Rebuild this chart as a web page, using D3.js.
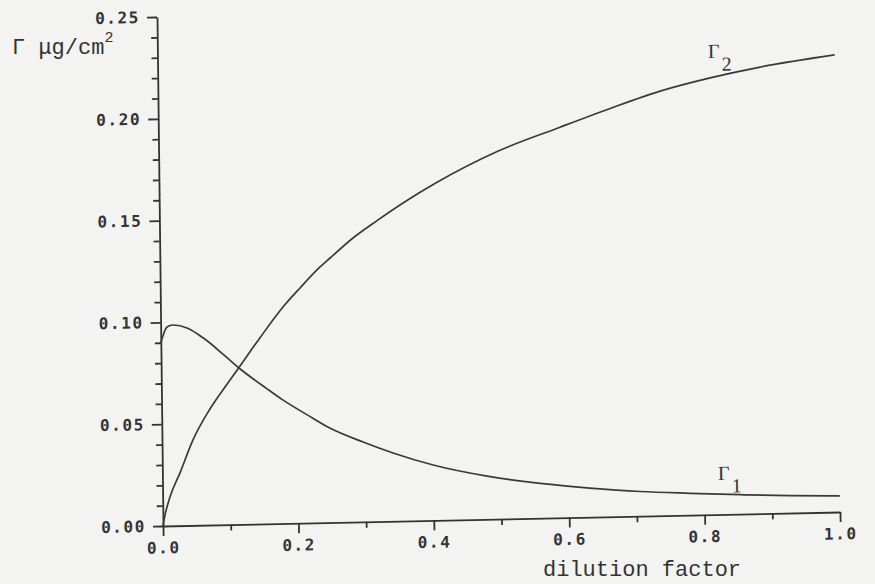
<!DOCTYPE html>
<html lang="en">
<head>
  <meta charset="UTF-8">
  <title>Gamma vs dilution factor</title>
  <script src="https://d3js.org/d3.v7.min.js"></script>
  <style>
    body, html {
      margin: 0;
      padding: 0;
      background: #f3f3f1;
    }
  </style>
</head>
<body>
  <svg id="svg" width="875" height="584"></svg>
  <script>
    // curve readings (dilution factor, surface concentration in ug/cm2)
    const dilution1 = [0, 0.0094, 0.018, 0.039, 0.0624, 0.0916, 0.1136, 0.156, 0.179, 0.215, 0.248, 0.297, 0.341, 0.400, 0.4795, 0.558, 0.631, 0.705, 0.779, 0.853, 0.927, 1.0]
    const gamma1 = [0.090, 0.0977, 0.0986, 0.097, 0.092, 0.0838, 0.0772, 0.0663, 0.0607, 0.0531, 0.0464, 0.0392, 0.0335, 0.0272, 0.0212, 0.0171, 0.0143, 0.0121, 0.0107, 0.0095, 0.0085, 0.0079]

    const dilution2 = [0, 0.0032, 0.0108, 0.026, 0.0458, 0.0714, 0.097, 0.1136, 0.1466, 0.181, 0.2065, 0.2364, 0.2514, 0.2856, 0.3214, 0.3601, 0.4107, 0.5, 0.5933, 0.6676, 0.7417, 0.8158, 0.8898, 1.0]
    const gamma2 = [0, 0.0054, 0.0142, 0.0259, 0.042, 0.057, 0.069, 0.0765, 0.0915, 0.1063, 0.1155, 0.1256, 0.1299, 0.1395, 0.1478, 0.1562, 0.166, 0.1805, 0.1918, 0.2005, 0.2085, 0.2145, 0.2193, 0.2245]

    const xMajor = [0, 0.2, 0.4, 0.6, 0.8, 1.0]
    const xMinor = [0.1, 0.3, 0.5, 0.7, 0.9]
    const yMajor = [0, 0.05, 0.10, 0.15, 0.20, 0.25]
    const yMinor = [0.01, 0.02, 0.03, 0.04, 0.06, 0.07, 0.08, 0.09, 0.11, 0.12, 0.13, 0.14, 0.16, 0.17, 0.18, 0.19, 0.21, 0.22, 0.23, 0.24]

    const svg = d3.select("svg")
    const ink = "#333"

    // the scanned plot is slightly tilted, so the plot group is skewed a little
    const plot = svg.append("g")
      .attr("transform", "matrix(1,-0.02068,0.01179,1,163,526)")

    const x = d3.scaleLinear().domain([0, 1]).range([0, 677])
    const y = d3.scaleLinear().domain([0, 0.25]).range([0, -509])

    const tickFont = (sel) => sel.selectAll("text")
      .attr("font-family", "DejaVu Sans Mono")
      .attr("font-weight", "bold")
      .attr("font-size", "16px")
      .attr("letter-spacing", "1.6px")
      .attr("fill", ink)

    const styleAxis = (sel) => {
      sel.selectAll("path, line").attr("stroke", ink).attr("stroke-width", 1.8)
    }

    // minor ticks
    plot.append("g")
      .call(d3.axisBottom(x).tickValues(xMinor).tickSize(6).tickFormat(""))
      .call(g => g.select(".domain").remove())
      .call(styleAxis)
    plot.append("g")
      .call(d3.axisLeft(y).tickValues(yMinor).tickSize(6).tickFormat(""))
      .call(g => g.select(".domain").remove())
      .call(styleAxis)

    // major ticks + axis lines
    plot.append("g")
      .call(d3.axisBottom(x).tickValues(xMajor).tickSize(10).tickSizeOuter(0).tickPadding(6).tickFormat(d3.format(".1f")))
      .call(styleAxis)
      .call(tickFont)
    plot.append("g")
      .call(d3.axisLeft(y).tickValues(yMajor).tickSize(10).tickSizeOuter(0).tickPadding(7).tickFormat(d3.format(".2f")))
      .call(styleAxis)
      .call(tickFont)

    const line = d3.line()
      .x(d => x(d[0]))
      .y(d => y(d[1]))
      .curve(d3.curveMonotoneX)

    plot.append("path")
      .datum(d3.zip(dilution1, gamma1))
      .attr("d", line)
      .attr("fill", "none")
      .attr("stroke", "#3a3a3a")
      .attr("stroke-width", 1.7)

    plot.append("path")
      .datum(d3.zip(dilution2, gamma2))
      .attr("d", line)
      .attr("fill", "none")
      .attr("stroke", "#3a3a3a")
      .attr("stroke-width", 1.7)

    // curve labels
    const curveLabel = (name, sub, dx, dy) => {
      const t = plot.append("text")
        .attr("x", x(dx))
        .attr("y", y(dy))
        .attr("font-family", "Liberation Serif")
        .attr("font-size", "20px")
        .attr("fill", ink)
      t.append("tspan").text(name)
      t.append("tspan").attr("dx", 2).attr("dy", 13).text(sub)
    }
    curveLabel("\u0393", "2", 0.813, 0.2243)
    curveLabel("\u0393", "1", 0.8206, 0.017)

    // axis titles
    const yTitle = svg.append("text")
      .attr("x", 12)
      .attr("y", 54)
      .attr("font-family", "Liberation Mono")
      .attr("font-size", "22px")
      .attr("fill", ink)
    yTitle.append("tspan").text("\u0393 \u03bcg/cm")
    yTitle.append("tspan").attr("dy", -12).attr("font-size", "15px").text("2")

    svg.append("text")
      .attr("x", 543)
      .attr("y", 576)
      .attr("font-family", "Liberation Mono")
      .attr("font-size", "22px")
      .attr("fill", ink)
      .text("dilution factor")
  </script>
</body>
</html>
